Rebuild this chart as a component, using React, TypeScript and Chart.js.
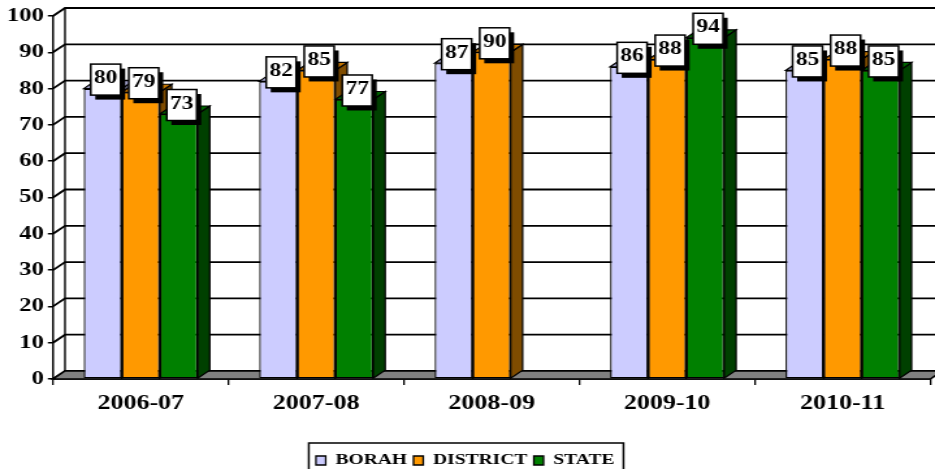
import React, { useEffect, useRef } from "react";
import { Chart, registerables } from "chart.js";

Chart.register(...registerables);

const categories = ["2006-07", "2007-08", "2008-09", "2009-10", "2010-11"];
const seriesNames = ["BORAH", "DISTRICT", "STATE"];
const borah = [80, 82, 87, 86, 85];
const district = [79, 85, 90, 88, 88];
const stateVals: (number | null)[] = [73, 77, null, 94, 85];
const yMin = 0;
const yMax = 100;
const yStep = 10;

const SCREEN_W = 935;
const H = 469;
const W = 719; // internal canvas width, stretched horizontally to SCREEN_W
const SX = SCREEN_W / W;
const DX = 12 / SX;
const DY = 8;
const SERIF = "'Liberation Serif', 'Times New Roman', serif";

const faces = [
  { front: "#CCCCFF", top: "#A3A3CC", side: "#66667F" },
  { front: "#FF9900", top: "#C47500", side: "#7F4C00" },
  { front: "#008000", top: "#006400", side: "#004000" },
];

function poly(ctx: CanvasRenderingContext2D, pts: number[][], fill: string) {
  ctx.beginPath();
  ctx.moveTo(pts[0][0], pts[0][1]);
  for (let i = 1; i < pts.length; i++) ctx.lineTo(pts[i][0], pts[i][1]);
  ctx.closePath();
  ctx.fillStyle = fill;
  ctx.fill();
  ctx.stroke();
}

const threeD = {
  id: "threeD",
  beforeDatasetsDraw(chart: any) {
    const { ctx, chartArea: a, scales } = chart;
    const y = scales.y;
    ctx.save();
    ctx.strokeStyle = "#000";
    ctx.lineWidth = 1.8;
    // back wall + left wall gridlines
    for (let v = yMin; v <= yMax; v += yStep) {
      const py = y.getPixelForValue(v);
      ctx.beginPath();
      ctx.moveTo(a.left, py);
      ctx.lineTo(a.left + DX, py - DY);
      ctx.lineTo(a.right + DX + 20, py - DY);
      ctx.stroke();
    }
    ctx.lineWidth = 1.4;
    ctx.beginPath();
    ctx.moveTo(a.left + DX, y.getPixelForValue(yMax) - DY);
    ctx.lineTo(a.left + DX, a.bottom - DY);
    ctx.stroke();
    // floor
    ctx.lineWidth = 1.6;
    poly(
      ctx,
      [
        [a.left, a.bottom],
        [a.right, a.bottom],
        [a.right + DX, a.bottom - DY],
        [a.left + DX, a.bottom - DY],
      ],
      "#808080"
    );
    // bar extrusions
    ctx.lineWidth = 1.2;
    chart.data.datasets.forEach((ds: any, i: number) => {
      const meta = chart.getDatasetMeta(i);
      meta.data.forEach((bar: any, j: number) => {
        const v = ds.data[j];
        if (v == null) return;
        const p = bar.getProps(["x", "y", "base", "width"], true);
        const l = p.x - p.width / 2;
        const r = p.x + p.width / 2;
        const top = p.y;
        const base = p.base;
        poly(ctx, [[r, top], [r + DX, top - DY], [r + DX, base - DY], [r, base]], faces[i].side);
        poly(ctx, [[l, top], [l + DX, top - DY], [r + DX, top - DY], [r, top]], faces[i].top);
      });
    });
    ctx.restore();
  },
  afterDatasetsDraw(chart: any) {
    const { ctx } = chart;
    ctx.save();
    ctx.font = `bold 18px ${SERIF}`;
    ctx.textAlign = "center";
    ctx.textBaseline = "middle";
    const bw = 23;
    const bh = 31;
    chart.data.datasets.forEach((ds: any, i: number) => {
      const meta = chart.getDatasetMeta(i);
      meta.data.forEach((bar: any, j: number) => {
        const v = ds.data[j];
        if (v == null) return;
        const p = bar.getProps(["x", "y"], true);
        const cx = p.x + 2.3;
        const cy = p.y - 9;
        ctx.fillStyle = "#000";
        ctx.fillRect(cx - bw / 2 + 3.5, cy - bh / 2 + 4.5, bw, bh);
        ctx.fillStyle = "#fff";
        ctx.fillRect(cx - bw / 2, cy - bh / 2, bw, bh);
        ctx.strokeStyle = "#000";
        ctx.lineWidth = 1.5;
        ctx.strokeRect(cx - bw / 2, cy - bh / 2, bw, bh);
        ctx.fillStyle = "#000";
        ctx.fillText(String(v), cx, cy - 1);
      });
    });
    ctx.restore();
  },
  afterDraw(chart: any) {
    const { ctx } = chart;
    const hb = chart.legend && chart.legend.legendHitBoxes;
    if (!hb || !hb.length) return;
    const last = hb[hb.length - 1];
    const left = hb[0].left - 5.5;
    const right = last.left + last.width + 7;
    ctx.save();
    ctx.strokeStyle = "#000";
    ctx.lineWidth = 1.5;
    ctx.strokeRect(left, 443, right - left, 40);
    ctx.restore();
  },
};

export default function App() {
  const ref = useRef<HTMLCanvasElement>(null);
  useEffect(() => {
    const canvas = ref.current;
    if (!canvas) return;
    const datasets = [borah, district, stateVals].map((d, i) => ({
      label: seriesNames[i],
      data: d,
      backgroundColor: faces[i].front,
      borderColor: "#000",
      borderWidth: 1.3,
      borderSkipped: false as any,
      barPercentage: 1,
      categoryPercentage: 0.65,
    }));
    const chart = new Chart(canvas, {
      type: "bar",
      data: { labels: categories, datasets },
      options: {
        responsive: false,
        animation: false,
        devicePixelRatio: 1,
        layout: { padding: { top: 16, right: 3.6, bottom: -9, left: 0 } },
        plugins: {
          tooltip: { enabled: false },
          legend: {
            position: "bottom",
            labels: {
              color: "#000",
              font: { family: SERIF, size: 15, weight: "bold" },
              boxWidth: 7.5,
              boxHeight: 9,
              padding: 5,
            },
          },
        },
        scales: {
          x: {
            offset: true,
            grid: { offset: true, drawOnChartArea: false, tickLength: 6, color: "#000", lineWidth: 1.3 },
            border: { display: true, color: "#000", width: 1.8 },
            ticks: { color: "#000", font: { family: SERIF, size: 20, weight: "bold" }, padding: 7, maxRotation: 0 },
            afterFit: (s: any) => {
              s.height = 69;
            },
          },
          y: {
            min: yMin,
            max: yMax,
            ticks: { stepSize: yStep, color: "#000", font: { family: SERIF, size: 19, weight: "bold" }, padding: 3 },
            grid: { drawOnChartArea: false, tickLength: 4, color: "#000", lineWidth: 1.5 },
            border: { display: true, color: "#000", width: 1.5 },
            afterFit: (s: any) => {
              s.width = 53 / SX;
            },
          },
        },
      },
      plugins: [threeD],
    } as any);
    return () => chart.destroy();
  }, []);
  return (
    <div style={{ position: "absolute", left: 0, top: 0, width: SCREEN_W, height: H, background: "#fff", overflow: "hidden" }}>
      <canvas ref={ref} width={W} height={H} style={{ width: SCREEN_W + "px", height: H + "px", display: "block" }} />
    </div>
  );
}
